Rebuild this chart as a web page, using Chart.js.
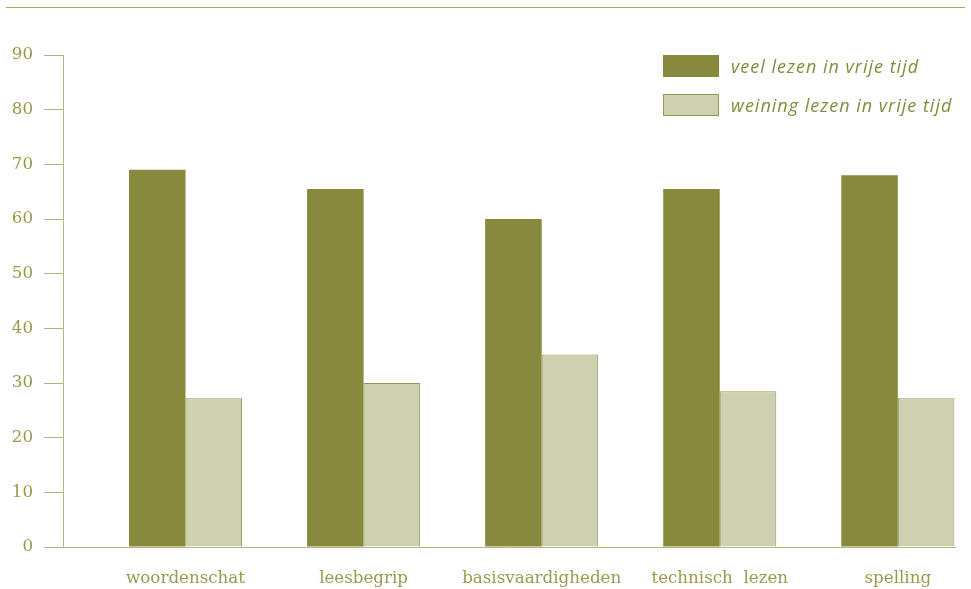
<!DOCTYPE html>
<html>
<head>
<meta charset="utf-8">
<script src="https://cdn.jsdelivr.net/npm/chart.js@4/dist/chart.umd.min.js"></script>
<style>
    body { margin: 0; background: #fff; }
    #wrap { position: relative; width: 971px; height: 589px; }
    #topline { position: absolute; left: 6px; top: 7px; width: 959px; border-top: 1px solid #b5a14f; }
    #legend { position: absolute; left: 663px; top: 55px; font-family: "Open Sans", sans-serif; font-style: italic; font-size: 18px; letter-spacing: 1px; color: #868a3c; }
    .item { position: relative; height: 22px; margin-bottom: 17px; }
    .swatch { position: absolute; left: 0; top: 0; width: 56px; height: 22px; box-sizing: border-box; }
    .item span { position: absolute; left: 68px; top: 0; line-height: 22px; white-space: nowrap; }
</style>
</head>
<body>
<div id="wrap">
    <div id="topline"></div>
    <canvas id="chart" width="971" height="589"></canvas>
    <div id="legend"></div>
</div>
<script>
// Data
const categories = ['woordenschat', 'leesbegrip', 'basisvaardigheden', 'technisch  lezen', 'spelling'];
const seriesNames = ['veel lezen in vrije tijd', 'weining lezen in vrije tijd'];
const veelLezen = [69, 65.5, 60, 65.5, 68];
const weinigLezen = [27.2, 30, 35.2, 28.5, 27.2];
const yTicks = [0, 10, 20, 30, 40, 50, 60, 70, 80, 90];

// Colors
const darkOlive = '#87893c';
const lightOlive = '#cfd0b0';
const textColor = '#9a9a4e';
const axisColor = '#b4b585';

// Build datasets (x = category index)
function toPoints(values) {
    return values.map((v, i) => ({ x: i, y: v }));
}

const datasets = [
    {
        label: seriesNames[0],
        data: toPoints(veelLezen),
        backgroundColor: darkOlive,
        borderColor: darkOlive,
        borderWidth: 0
    },
    {
        label: seriesNames[1],
        data: toPoints(weinigLezen),
        backgroundColor: lightOlive,
        borderColor: '#939654',
        borderWidth: 1
    }
];

// HTML legend
const legendEl = document.getElementById('legend');
datasets.forEach(ds => {
    const item = document.createElement('div');
    item.className = 'item';
    const sw = document.createElement('div');
    sw.className = 'swatch';
    sw.style.background = ds.backgroundColor;
    if (ds.borderWidth) sw.style.border = '1px solid ' + ds.borderColor;
    const txt = document.createElement('span');
    txt.textContent = ds.label;
    item.appendChild(sw);
    item.appendChild(txt);
    legendEl.appendChild(item);
});

const serif = { family: '"DejaVu Serif", serif', size: 16.7 };

new Chart(document.getElementById('chart').getContext('2d'), {
    type: 'bar',
    data: { datasets: datasets },
    options: {
        responsive: false,
        animation: false,
        categoryPercentage: 0.635,
        barPercentage: 1,
        layout: { padding: { top: 55, right: 16, left: 0, bottom: 0 } },
        plugins: {
            legend: { display: false },
            tooltip: { enabled: false }
        },
        scales: {
            x: {
                type: 'linear',
                offset: false,
                min: -0.688,
                max: 4.321,
                grid: { display: false, drawTicks: false },
                border: { display: true, color: axisColor, width: 1 },
                afterFit: s => { s.height = 42; },
                afterBuildTicks: s => { s.ticks = categories.map((c, i) => ({ value: i })); },
                ticks: {
                    autoSkip: false,
                    maxRotation: 0,
                    padding: 22,
                    color: textColor,
                    font: serif,
                    callback: v => categories[v]
                }
            },
            y: {
                min: 0,
                max: 90,
                afterFit: s => { s.width = 63; },
                afterBuildTicks: s => { s.ticks = yTicks.map(v => ({ value: v })); },
                grid: {
                    drawOnChartArea: false,
                    drawTicks: true,
                    tickLength: 19,
                    color: axisColor
                },
                border: { display: true, color: axisColor, width: 1 },
                ticks: {
                    padding: 11,
                    color: textColor,
                    font: serif
                }
            }
        }
    }
});
</script>
</body>
</html>
